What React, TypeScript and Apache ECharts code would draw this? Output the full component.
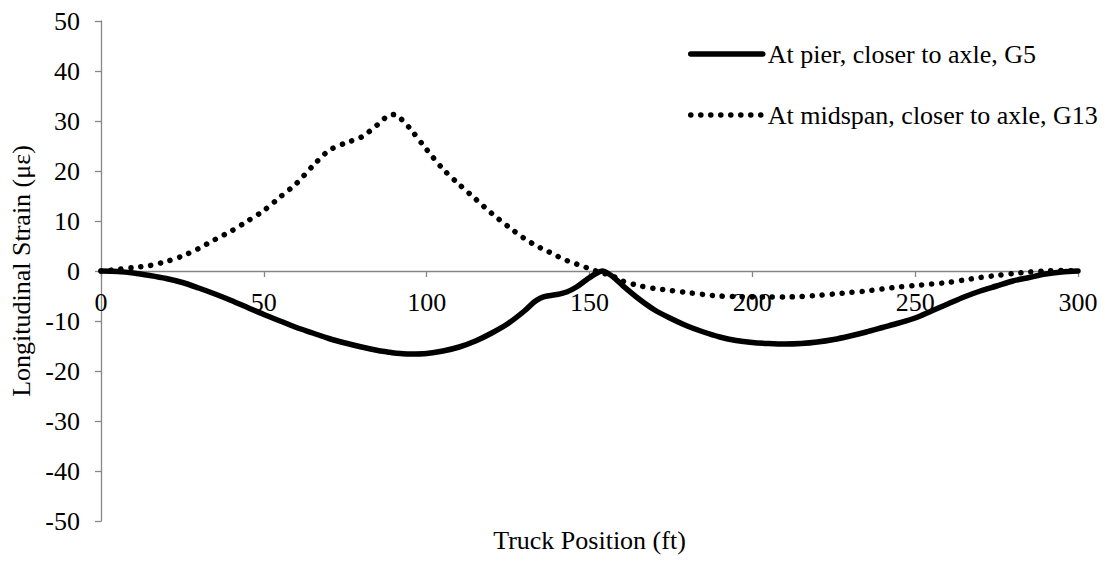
import React, { useEffect, useRef } from "react";
import * as echarts from "echarts";

const xPositions = [
  0, 5, 10, 15, 20, 25, 30, 35, 40, 45, 50, 55, 60, 65, 70, 75, 80, 85, 88, 90,
  92, 95, 100, 105, 110, 115, 120, 125, 130, 133, 135, 137, 140, 143, 146, 149,
  152, 154, 156, 158, 160, 165, 170, 175, 180, 185, 190, 195, 200, 205, 210, 215,
  220, 225, 230, 235, 240, 245, 250, 255, 260, 265, 270, 275, 280, 285, 290, 295, 300,
];

const pierG5 = [
  0, -0.1, -0.4, -0.9, -1.5, -2.3, -3.4, -4.6, -5.9, -7.3, -8.7, -10.0, -11.3,
  -12.4, -13.5, -14.4, -15.2, -15.9, -16.2, -16.4, -16.5, -16.6, -16.5, -16.0,
  -15.2, -14.0, -12.4, -10.5, -8.0, -6.2, -5.4, -5.0, -4.7, -4.2, -3.2, -1.8,
  -0.5, 0, -0.6, -1.6, -2.8, -5.5, -7.8, -9.5, -11.0, -12.2, -13.2, -13.9, -14.3,
  -14.5, -14.6, -14.5, -14.2, -13.7, -13.0, -12.2, -11.3, -10.4, -9.4, -8.0, -6.6,
  -5.2, -4.0, -3.0, -2.0, -1.3, -0.6, -0.2, 0,
];

const midspanG13 = [
  0, 0.3, 0.7, 1.1, 1.9, 3.0, 4.5, 6.3, 8.0, 10.0, 12.1, 14.8, 17.5, 21.0, 24.1,
  25.6, 26.8, 29.3, 31.0, 31.3, 30.5, 28.4, 24.3, 20.4, 17.3, 14.4, 11.5, 8.9,
  6.5, 5.3, 4.6, 4.0, 3.0, 2.1, 1.4, 0.7, 0.0, -0.4, -0.8, -1.3, -2.0, -2.9,
  -3.5, -3.9, -4.3, -4.7, -5.0, -5.1, -5.2, -5.2, -5.2, -5.1, -4.9, -4.6, -4.3,
  -4.0, -3.6, -3.2, -2.9, -2.6, -2.3, -1.8, -1.3, -0.9, -0.5, -0.2, 0, 0.1, 0,
];

const seriesNames = [
  "At pier, closer to axle, G5",
  "At midspan, closer to axle, G13",
];

const FONT = "'Liberation Serif', 'Times New Roman', serif";

const GRID_TOP = 21;
const GRID_BOTTOM = 40;
const CHART_H = 561;
const Y_MIN = -50;
const Y_MAX = 50;

export default function App() {
  const ref = useRef<HTMLDivElement>(null);
  useEffect(() => {
    if (!ref.current) return;
    const chart = echarts.init(ref.current, undefined, { renderer: "svg" });
    const pair = (ys: number[]) => xPositions.map((x, i) => [x, ys[i]]);
    // distance from the bottom of the plot to the zero line
    const plotH = CHART_H - GRID_TOP - GRID_BOTTOM;
    const zeroShift = (plotH * (0 - Y_MIN)) / (Y_MAX - Y_MIN);
    chart.setOption({
      animation: false,
      backgroundColor: "#ffffff",
      grid: {
        left: 101,
        right: 35,
        top: GRID_TOP,
        bottom: GRID_BOTTOM,
        containLabel: false,
        outerBoundsMode: "none",
      },
      legend: {
        orient: "vertical",
        left: 683,
        top: 36,
        itemWidth: 72,
        itemHeight: 14,
        itemGap: 35,
        itemStyle: { opacity: 0 },
        lineStyle: { width: 5.5, cap: "round" },
        textStyle: { fontFamily: FONT, fontSize: 26, color: "#000" },
        data: seriesNames,
      },
      xAxis: {
        type: "value",
        min: 0,
        max: 300,
        interval: 50,
        position: "bottom",
        offset: -zeroShift,
        name: "Truck Position (ft)",
        nameLocation: "middle",
        nameGap: 256,
        nameTextStyle: { fontFamily: FONT, fontSize: 26, color: "#000" },
        axisLine: { onZero: false, lineStyle: { color: "#868686", width: 1.3 } },
        axisTick: { show: true, length: 6, lineStyle: { color: "#868686", width: 1.3 } },
        axisLabel: { margin: 18, fontFamily: FONT, fontSize: 26, color: "#000" },
        splitLine: { show: false },
      },
      yAxis: {
        type: "value",
        min: Y_MIN,
        max: Y_MAX,
        interval: 10,
        name: "Longitudinal Strain (με)",
        nameLocation: "middle",
        nameGap: 67,
        nameTextStyle: { fontFamily: FONT, fontSize: 26, color: "#000" },
        axisLine: { show: true, onZero: false, lineStyle: { color: "#868686", width: 1.3 } },
        axisTick: { show: true, length: 6, lineStyle: { color: "#868686", width: 1.3 } },
        axisLabel: { margin: 21, fontFamily: FONT, fontSize: 26, color: "#000" },
        splitLine: { show: false },
      },
      series: [
        {
          name: seriesNames[0],
          type: "line",
          data: pair(pierG5),
          showSymbol: false,
          symbol: "none",
          smooth: 0.3,
          lineStyle: { color: "#000", width: 5.5, cap: "round", join: "round" },
          itemStyle: { color: "#000" },
          z: 3,
        },
        {
          name: seriesNames[1],
          type: "line",
          data: pair(midspanG13),
          showSymbol: false,
          symbol: "none",
          smooth: 0.3,
          lineStyle: {
            color: "#000",
            width: 5.5,
            type: [0.1, 9.9],
            cap: "round",
            join: "round",
          },
          itemStyle: { color: "#000" },
          z: 2,
        },
      ],
    });
    return () => chart.dispose();
  }, []);
  return (
    <div
      ref={ref}
      style={{ position: "fixed", left: 0, top: 0, width: 1113, height: 561, background: "#fff" }}
    />
  );
}
